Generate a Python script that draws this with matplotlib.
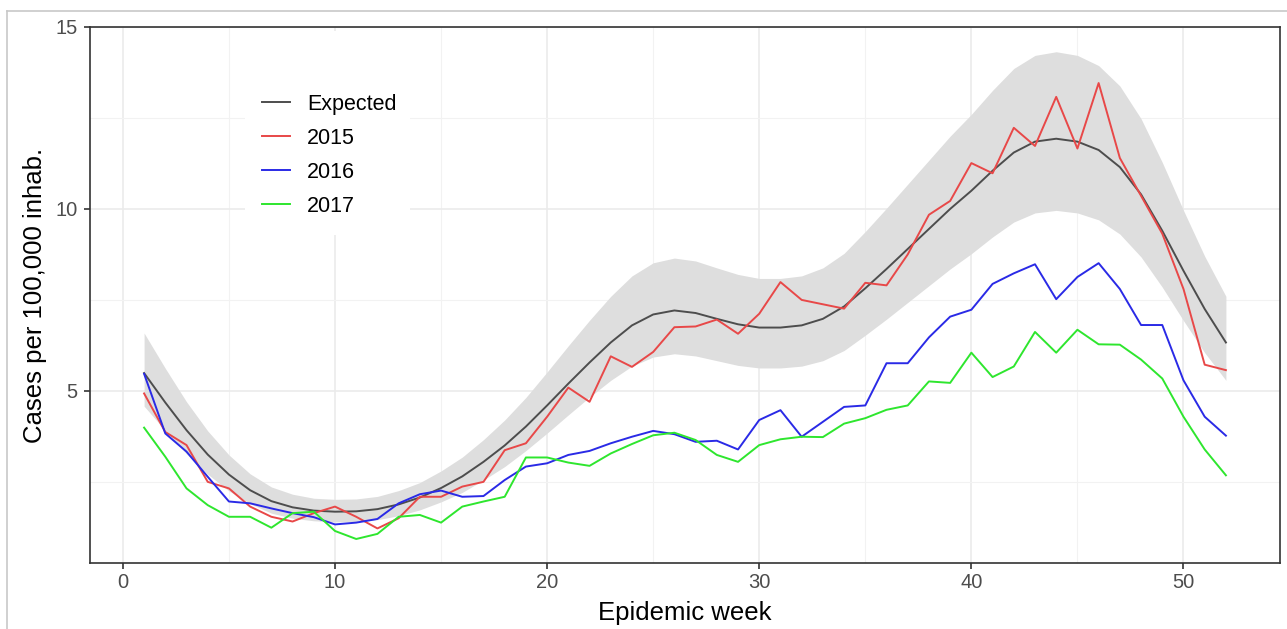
import matplotlib
matplotlib.use("Agg")
import matplotlib.pyplot as plt
from matplotlib.lines import Line2D
from matplotlib.patches import Rectangle

plt.rcParams['font.family'] = ['Liberation Sans', 'DejaVu Sans']

weeks = list(range(1, 53))

expected = [5.49, 4.68, 3.92, 3.25, 2.70, 2.27, 1.97, 1.80, 1.71, 1.68,
            1.69, 1.75, 1.88, 2.07, 2.33, 2.65, 3.05, 3.50, 4.02, 4.60,
            5.20, 5.78, 6.33, 6.80, 7.10, 7.21, 7.14, 6.98, 6.83, 6.74,
            6.74, 6.80, 6.98, 7.32, 7.82, 8.35, 8.90, 9.45, 10.00, 10.50,
            11.05, 11.55, 11.85, 11.93, 11.85, 11.62, 11.15, 10.40, 9.40, 8.30,
            7.25, 6.33]

upper = [6.59, 5.62, 4.70, 3.90, 3.24, 2.72, 2.36, 2.16, 2.05, 2.02,
         2.03, 2.10, 2.26, 2.48, 2.80, 3.18, 3.66, 4.20, 4.82, 5.52,
         6.24, 6.94, 7.60, 8.16, 8.52, 8.65, 8.57, 8.38, 8.20, 8.09,
         8.09, 8.16, 8.38, 8.78, 9.38, 10.02, 10.68, 11.34, 12.00, 12.60,
         13.26, 13.86, 14.22, 14.32, 14.22, 13.94, 13.38, 12.48, 11.28, 9.96,
         8.70, 7.60]

lower = [4.58, 3.91, 3.27, 2.71, 2.25, 1.90, 1.64, 1.50, 1.43, 1.40,
         1.41, 1.46, 1.57, 1.73, 1.95, 2.21, 2.55, 2.92, 3.36, 3.84,
         4.34, 4.83, 5.29, 5.68, 5.93, 6.02, 5.96, 5.83, 5.70, 5.63,
         5.63, 5.68, 5.83, 6.11, 6.53, 6.97, 7.43, 7.89, 8.35, 8.77,
         9.23, 9.64, 9.89, 9.96, 9.89, 9.70, 9.31, 8.68, 7.85, 6.93,
         6.05, 5.29]

y2015 = [4.93, 3.87, 3.51, 2.50, 2.32, 1.82, 1.54, 1.41, 1.64, 1.82,
         1.54, 1.22, 1.50, 2.09, 2.09, 2.37, 2.50, 3.37, 3.56, 4.29,
         5.09, 4.70, 5.95, 5.66, 6.07, 6.75, 6.77, 6.96, 6.57, 7.12,
         7.99, 7.50, 7.38, 7.26, 7.97, 7.90, 8.75, 9.84, 10.22, 11.26,
         10.98, 12.23, 11.73, 13.08, 11.66, 13.46, 11.40, 10.36, 9.32, 7.80,
         5.72, 5.57]

y2016 = [5.47, 3.83, 3.33, 2.64, 1.96, 1.91, 1.77, 1.64, 1.53, 1.33,
         1.38, 1.48, 1.91, 2.16, 2.26, 2.09, 2.11, 2.55, 2.92, 3.01,
         3.24, 3.35, 3.56, 3.74, 3.90, 3.81, 3.60, 3.63, 3.39, 4.20,
         4.47, 3.74, 4.15, 4.56, 4.60, 5.76, 5.76, 6.47, 7.04, 7.23,
         7.94, 8.23, 8.48, 7.52, 8.13, 8.51, 7.80, 6.81, 6.81, 5.29,
         4.29, 3.77]

y2017 = [3.99, 3.19, 2.32, 1.86, 1.54, 1.54, 1.24, 1.64, 1.68, 1.15,
         0.93, 1.07, 1.54, 1.59, 1.38, 1.82, 1.96, 2.09, 3.17, 3.17,
         3.03, 2.94, 3.28, 3.54, 3.78, 3.85, 3.65, 3.24, 3.05, 3.51,
         3.67, 3.74, 3.73, 4.10, 4.25, 4.48, 4.60, 5.26, 5.22, 6.05,
         5.38, 5.67, 6.62, 6.05, 6.68, 6.28, 6.27, 5.86, 5.34, 4.29,
         3.39, 2.68]

series_labels = ["Expected", "2015", "2016", "2017"]
series_colors = ["#4d4d4d", "#e84848", "#2a2ae6", "#2ee62e"]

xticks = [0, 10, 20, 30, 40, 50]
yticks = [5, 10, 15]

W, H = 1287, 629
fig = plt.figure(figsize=(W / 100, H / 100), dpi=100)

# screenshot-like border (left and top)
fig.add_artist(Line2D([7 / W, 7 / W], [0, 1 - 11 / H], transform=fig.transFigure,
                      color="#c8c8c8", lw=1.2))
fig.add_artist(Line2D([7 / W, 1], [1 - 11 / H, 1 - 11 / H], transform=fig.transFigure,
                      color="#c8c8c8", lw=1.2))

ax_l, ax_r, ax_t, ax_b = 90, 1280, 27, 563
ax = fig.add_axes([ax_l / W, 1 - ax_b / H, (ax_r - ax_l) / W, (ax_b - ax_t) / H])
aw, ah = ax_r - ax_l, ax_b - ax_t

ax.fill_between(weeks, lower, upper, color="#dedede", lw=0, zorder=2)
for vals, lab, col in zip([expected, y2015, y2016, y2017], series_labels, series_colors):
    ax.plot(weeks, vals, color=col, lw=1.4, label=lab, zorder=3)

ax.set_xlim(-1.55, 54.55)
ax.set_ylim(0.27, 14.97)
ax.set_xticks(xticks)
ax.set_yticks(yticks)
ax.set_xticks([5, 15, 25, 35, 45], minor=True)
ax.set_yticks([2.5, 7.5, 12.5], minor=True)
ax.grid(True, which="major", color="#ebebeb", lw=1.2, zorder=0)
ax.grid(True, which="minor", color="#f2f2f2", lw=0.8, zorder=0)
ax.set_axisbelow(True)
ax.tick_params(which="major", direction="out", length=4.0, width=1.2,
               color="#333333", labelcolor="#4d4d4d", labelsize=14.5)
ax.tick_params(axis="x", which="major", pad=3.0)
ax.tick_params(axis="y", which="major", pad=5.0)
ax.tick_params(which="minor", length=0)
for sp in ax.spines.values():
    sp.set_color("#333333")
    sp.set_linewidth(1.2)

ax.set_xlabel("Epidemic week", fontsize=18.5, color="black", labelpad=6.5)
ax.set_ylabel("Cases per 100,000 inhab.", fontsize=18.5, color="black", labelpad=6)

# legend background (white box hiding gridlines)
ax.add_patch(Rectangle(((245 - ax_l) / aw, (ax_b - 235) / ah),
                       (410 - 245) / aw, (235 - 31) / ah,
                       transform=ax.transAxes, facecolor="white",
                       edgecolor="none", zorder=1))

leg = ax.legend(loc="upper left",
                bbox_to_anchor=((262 - ax_l) / aw, (ax_b - 94) / ah),
                frameon=False, fontsize=15.5, handlelength=1.3,
                handletextpad=0.80, labelspacing=0.60, borderpad=0,
                borderaxespad=0)
leg.set_zorder(5)

fig.savefig("out.png", dpi=100)
